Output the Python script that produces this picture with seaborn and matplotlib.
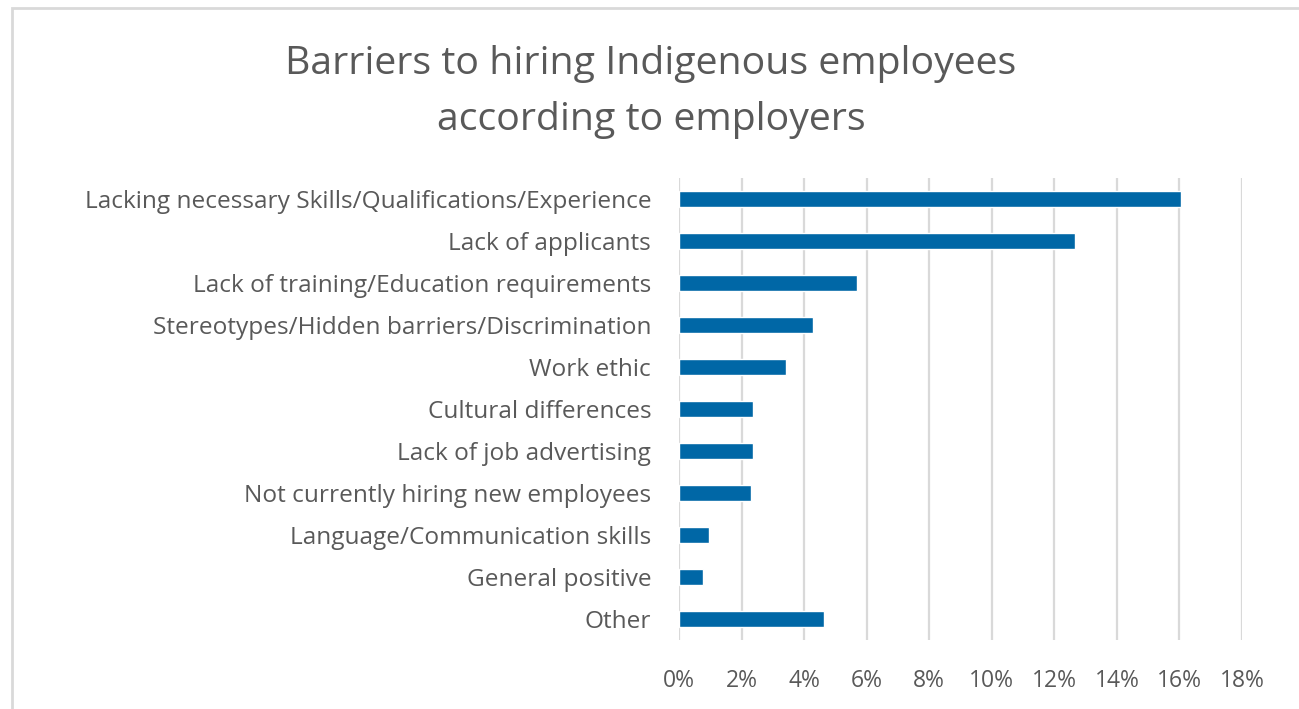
"""Barriers to hiring Indigenous employees, horizontal bar chart."""

import matplotlib
matplotlib.use("Agg")
import matplotlib.pyplot as plt
from matplotlib.patches import Rectangle
from matplotlib.ticker import FuncFormatter, MultipleLocator
import pandas as pd
import seaborn as sns

categories = [
    "Lacking necessary Skills/Qualifications/Experience",
    "Lack of applicants",
    "Lack of training/Education requirements",
    "Stereotypes/Hidden barriers/Discrimination",
    "Work ethic",
    "Cultural differences",
    "Lack of job advertising",
    "Not currently hiring new employees",
    "Language/Communication skills",
    "General positive",
    "Other",
]
shares = [16.05, 12.66, 5.68, 4.27, 3.42, 2.38, 2.38, 2.29, 0.96, 0.78, 4.65]

title = "Barriers to hiring Indigenous employees\naccording to employers"
BAR_COLOR = "#0067a6"
TEXT_COLOR = "#595959"

sns.set_theme(style="white")
plt.rcParams["font.family"] = ["Open Sans", "DejaVu Sans"]

df = pd.DataFrame({"barrier": categories, "share": shares})

W, H = 1299, 709
fig = plt.figure(figsize=(W / 100, H / 100), dpi=100)
ax = fig.add_axes([679 / W, 1 - 640 / H, (1242 - 679) / W, (640 - 178) / H])

sns.barplot(data=df, x="share", y="barrier", color=BAR_COLOR, saturation=1,
            width=0.38, orient="h", ax=ax, zorder=3)

ax.set_xlim(0, 18)
ax.set_ylim(10.5, -0.5)
ax.xaxis.set_major_locator(MultipleLocator(2))
ax.xaxis.set_major_formatter(FuncFormatter(lambda v, _: f"{v:.0f}%"))
ax.grid(axis="x", color="#d9d9d9", linewidth=1.6, zorder=0)
for s in ax.spines.values():
    s.set_visible(False)
ax.set_xlabel(""); ax.set_ylabel("")
ax.tick_params(axis="both", length=0, labelsize=16.5, labelcolor=TEXT_COLOR)
ax.tick_params(axis="y", pad=20, labelsize=17.6)
ax.tick_params(axis="x", pad=21)

fig.text(651 / W, 1 - 92 / H, title, ha="center", va="center", fontsize=28.3,
         color=TEXT_COLOR, linespacing=1.6)

# outer chart frame
fig.patches.append(Rectangle((12 / W, -0.1), 1.2, 1 - 8 / H + 0.1, transform=fig.transFigure,
                             fill=False, edgecolor="#d9d9d9", linewidth=2, zorder=0))

fig.savefig("out.png", dpi=100)
plt.close(fig)
